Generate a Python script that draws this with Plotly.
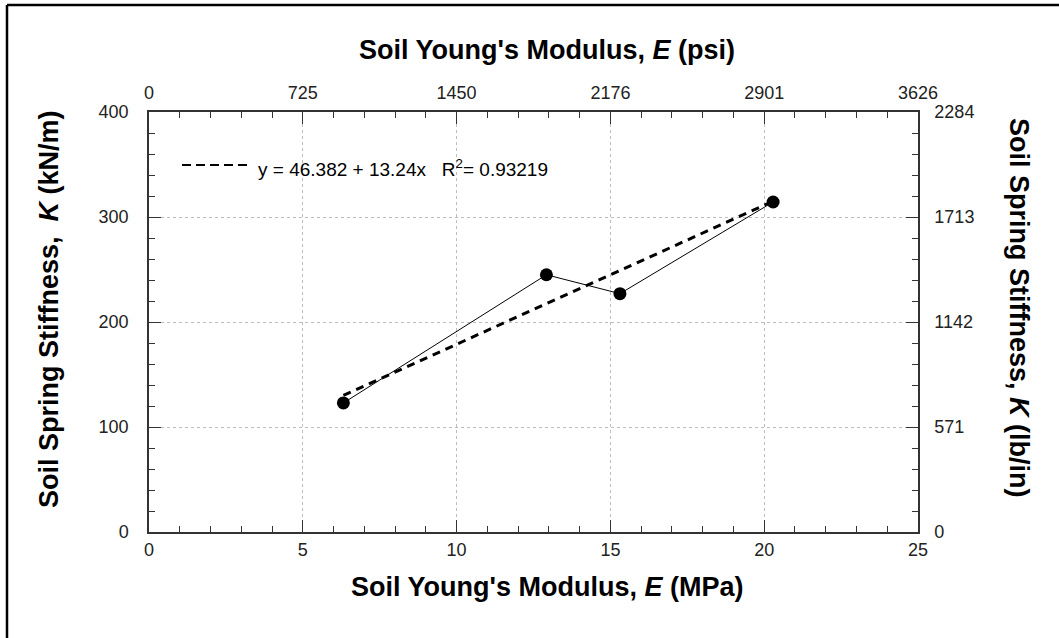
import plotly.graph_objects as go

# ---- data ----
E_mpa = [6.32, 12.92, 15.31, 20.29]
K_knm = [122.9, 245.0, 227.0, 314.3]
fit_intercept = 46.382
fit_slope = 13.24
fit_r2 = 0.93219

x_major = [0, 5, 10, 15, 20, 25]
psi_labels = ["0", "725", "1450", "2176", "2901", "3626"]
y_major = [0, 100, 200, 300, 400]
lbin_labels = ["0", "571", "1142", "1713", "2284"]

# ---- geometry ----
W, H = 1059, 638
L, R, T, B = 149, 141, 112, 106
PW, PH = W - L - R, H - T - B


def px(x):
    return (x - L) / PW


def py(y):
    return (T + PH - y) / PH


FONT = "Arial, Liberation Sans, sans-serif"
AX = "#333333"

fit_x = [E_mpa[0], E_mpa[-1]]
fit_y = [fit_intercept + fit_slope * v for v in fit_x]

fig = go.Figure()
fig.add_trace(go.Scatter(x=fit_x, y=fit_y, mode="lines",
                         line=dict(color="black", width=3, dash="8px,6px"),
                         showlegend=False, hoverinfo="skip"))
fig.add_trace(go.Scatter(x=E_mpa, y=K_knm, mode="lines+markers",
                         line=dict(color="black", width=1),
                         marker=dict(color="black", size=13),
                         showlegend=False))
# invisible trace to activate secondary axes
fig.add_trace(go.Scatter(x=[0, 25], y=[0, 0], xaxis="x2", yaxis="y2",
                         mode="lines", line=dict(width=0), opacity=0,
                         showlegend=False, hoverinfo="skip"))

tickfont = dict(family=FONT, size=18, color="#222")
common = dict(showline=True, linecolor=AX, linewidth=1.5, ticks="inside",
              ticklen=12, tickwidth=1.2, tickcolor=AX, tickfont=tickfont,
              zeroline=False)

fig.update_layout(
    width=W, height=H,
    margin=dict(l=L, r=R, t=T, b=B),
    paper_bgcolor="white", plot_bgcolor="white",
    xaxis=dict(range=[0, 25], tickmode="array", tickvals=x_major,
               showgrid=True, gridcolor="#bdbdbd", griddash="dot", gridwidth=1,
               minor=dict(tickmode="linear", tick0=0, dtick=1, ticks="inside",
                          ticklen=6, tickcolor=AX, tickwidth=1.2, showgrid=False),
               ticklabelstandoff=1, **common),
    xaxis2=dict(range=[0, 25], overlaying="x", side="top", anchor="y",
                tickmode="array", tickvals=x_major, ticktext=psi_labels,
                showgrid=False,
                minor=dict(tickmode="linear", tick0=0, dtick=1, ticks="inside",
                           ticklen=6, tickcolor=AX, tickwidth=1.2, showgrid=False),
                ticklabelstandoff=4, **common),
    yaxis=dict(range=[0, 400], tickmode="array", tickvals=y_major,
               showgrid=True, gridcolor="#bdbdbd", griddash="dot", gridwidth=1,
               minor=dict(tickmode="linear", tick0=0, dtick=20, ticks="inside",
                          ticklen=6, tickcolor=AX, tickwidth=1.2, showgrid=False),
               ticklabelstandoff=15, **common),
    yaxis2=dict(range=[0, 400], overlaying="y", side="right", anchor="x",
                tickmode="array", tickvals=y_major, ticktext=lbin_labels,
                showgrid=False,
                minor=dict(tickmode="linear", tick0=0, dtick=20, ticks="inside",
                           ticklen=6, tickcolor=AX, tickwidth=1.2, showgrid=False),
                ticklabelstandoff=11, **common),
    showlegend=False,
)

titlefont = dict(family=FONT, size=27, color="black")
ann = [
    dict(x=px(547), y=py(50), text="<b>Soil Young's Modulus, <i>E</i> (psi)</b>"),
    dict(x=px(547), y=py(587), text="<b>Soil Young's Modulus, <i>E</i> (MPa)</b>"),
    dict(x=px(49), y=py(309), text="<b>Soil Spring Stiffness,  <i>K</i> (kN/m)</b>", textangle=-90),
    dict(x=px(1019), y=py(308), text="<b>Soil Spring Stiffness, <i>K</i> (lb/in)</b>", textangle=90),
]
for a in ann:
    fig.add_annotation(xref="paper", yref="paper", showarrow=False,
                       xanchor="center", yanchor="middle", font=titlefont, **a)

fig.add_annotation(xref="paper", yref="paper", showarrow=False,
                   x=px(256), y=py(168), xanchor="left", yanchor="middle",
                   text=f"y = {fit_intercept} + {fit_slope}x   R<sup>2</sup>= {fit_r2}",
                   font=dict(family=FONT, size=19, color="black"))
fig.add_shape(type="line", xref="paper", yref="paper",
              x0=px(182), x1=px(251), y0=py(165), y1=py(165),
              line=dict(color="black", width=2, dash="9px,5px"))

# outer frame (left and top edges visible)
fig.add_shape(type="line", xref="paper", yref="paper",
              x0=px(7), x1=px(7), y0=py(5), y1=py(640),
              line=dict(color="black", width=2.5))
fig.add_shape(type="line", xref="paper", yref="paper",
              x0=px(7), x1=px(1062), y0=py(5), y1=py(5),
              line=dict(color="black", width=2.5))

fig.write_html("out.html")
